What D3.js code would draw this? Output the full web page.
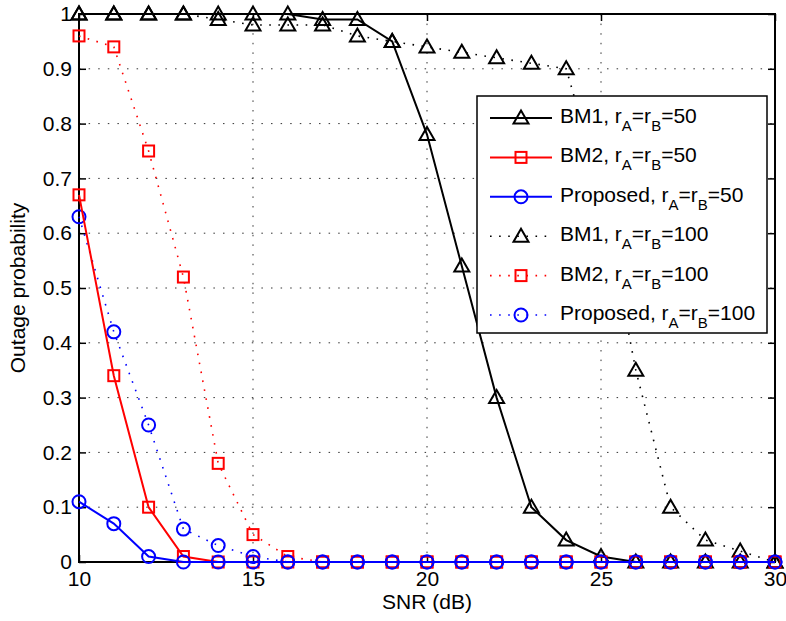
<!DOCTYPE html>
<html>
<head>
<meta charset="utf-8">
<script src="https://cdn.jsdelivr.net/npm/d3@7"></script>
<style>
  html, body { margin: 0; padding: 0; background: #fff; }
  text { font-family: "Liberation Sans", Arial, Helvetica, sans-serif; }
</style>
</head>
<body>
<svg id="chart" width="786" height="621"></svg>
<script>
// ---- data ----
const snr = [10,11,12,13,14,15,16,17,18,19,20,21,22,23,24,25,26,27,28,29,30];
const bm1_50  = [1,1,1,1,1,1,1,0.99,0.99,0.95,0.78,0.54,0.30,0.10,0.04,0.01,0,0,0,0,0];
const bm2_50  = [0.67,0.34,0.10,0.01,0,0,0,0,0,0,0,0,0,0,0,0,0,0,0,0,0];
const prop_50 = [0.11,0.07,0.01,0,0,0,0,0,0,0,0,0,0,0,0,0,0,0,0,0,0];
const bm1_100  = [1,1,1,1,0.99,0.98,0.98,0.98,0.96,0.95,0.94,0.93,0.92,0.91,0.90,0.68,0.35,0.10,0.04,0.02,0];
const bm2_100  = [0.96,0.94,0.75,0.52,0.18,0.05,0.01,0,0,0,0,0,0,0,0,0,0,0,0,0,0];
const prop_100 = [0.63,0.42,0.25,0.06,0.03,0.01,0,0,0,0,0,0,0,0,0,0,0,0,0,0,0];
const xTicks = [10,15,20,25,30];
const yTicks = [0,0.1,0.2,0.3,0.4,0.5,0.6,0.7,0.8,0.9,1];
const seriesNames = ["BM1", "BM2", "Proposed", "BM1", "BM2", "Proposed"];
const seriesR = ["50","50","50","100","100","100"];

const series = [
  {name: seriesNames[0], r: seriesR[0], values: bm1_50,  color: "#000", marker: "tri", dotted: false},
  {name: seriesNames[1], r: seriesR[1], values: bm2_50,  color: "#ff0000", marker: "sq", dotted: false},
  {name: seriesNames[2], r: seriesR[2], values: prop_50, color: "#0000ff", marker: "circ", dotted: false},
  {name: seriesNames[3], r: seriesR[3], values: bm1_100,  color: "#000", marker: "tri", dotted: true},
  {name: seriesNames[4], r: seriesR[4], values: bm2_100,  color: "#ff0000", marker: "sq", dotted: true},
  {name: seriesNames[5], r: seriesR[5], values: prop_100, color: "#0000ff", marker: "circ", dotted: true}
];

// ---- layout ----
const L = 79, R = 775, T = 14, B = 562;
const svg = d3.select("#chart");
const x = d3.scaleLinear().domain([10,30]).range([L,R]);
const y = d3.scaleLinear().domain([0,1]).range([B,T]);
const FS = 21;

// grid
const grid = svg.append("g");
grid.selectAll(".gx").data(xTicks.slice(1,-1)).enter().append("line")
  .attr("x1", d=>x(d)).attr("x2", d=>x(d)).attr("y1", T).attr("y2", B)
  .attr("stroke", "#333").attr("stroke-width", 1).attr("stroke-dasharray", "1.5,8.1");
grid.selectAll(".gy").data(yTicks.slice(1,-1)).enter().append("line")
  .attr("x1", L).attr("x2", R).attr("y1", d=>y(d)).attr("y2", d=>y(d))
  .attr("stroke", "#333").attr("stroke-width", 1).attr("stroke-dasharray", "1.5,8.1");

// axes with inner ticks
const xAxisB = d3.axisBottom(x).tickValues(xTicks).tickSize(-7).tickPadding(9).tickFormat(d3.format("d"));
const xAxisT = d3.axisTop(x).tickValues(xTicks).tickSize(-7).tickFormat("");
const yAxisL = d3.axisLeft(y).tickValues(yTicks).tickSize(-7).tickPadding(7).tickFormat(d => d === 0 || d === 1 ? String(d) : d3.format(".1f")(d));
const yAxisR = d3.axisRight(y).tickValues(yTicks).tickSize(-7).tickFormat("");

function styleAxis(g) {
  g.select(".domain").remove();
  g.selectAll(".tick line").attr("stroke", "#000").attr("stroke-width", 1.5);
  g.selectAll(".tick text").attr("fill", "#000").style("font-size", FS + "px")
    .style("font-family", '"Liberation Sans", Arial, sans-serif');
}
svg.append("g").attr("transform", `translate(0,${B})`).call(xAxisB).call(styleAxis);
svg.append("g").attr("transform", `translate(0,${T})`).call(xAxisT).call(styleAxis);
svg.append("g").attr("transform", `translate(${L},0)`).call(yAxisL).call(styleAxis);
svg.append("g").attr("transform", `translate(${R},0)`).call(yAxisR).call(styleAxis);

// box
svg.append("rect").attr("x", L).attr("y", T).attr("width", R-L).attr("height", B-T)
  .attr("fill", "none").attr("stroke", "#000").attr("stroke-width", 2);

// axis labels
svg.append("text").attr("x", (L+R)/2).attr("y", 609).attr("text-anchor", "middle")
  .style("font-size", FS + "px").text("SNR (dB)");
svg.append("text").attr("transform", `translate(25,${(T+B)/2}) rotate(-90)`).attr("text-anchor", "middle")
  .style("font-size", FS + "px").text("Outage probability");

// marker drawer
function drawMarker(g, type, cx, cy, color) {
  if (type === "tri") {
    g.append("path").attr("d", `M${cx},${cy-7.5} L${cx+7.5},${cy+5.5} L${cx-7.5},${cy+5.5} Z`)
      .attr("fill", "none").attr("stroke", color).attr("stroke-width", 2);
  } else if (type === "sq") {
    g.append("rect").attr("x", cx-5.5).attr("y", cy-5.5).attr("width", 11).attr("height", 11)
      .attr("fill", "none").attr("stroke", color).attr("stroke-width", 2);
  } else {
    g.append("circle").attr("cx", cx).attr("cy", cy).attr("r", 6.5)
      .attr("fill", "none").attr("stroke", color).attr("stroke-width", 2);
  }
}

// data lines (draw order: dotted first, then solid)
const plot = svg.append("g");
const line = d3.line().x((d,i)=>x(snr[i])).y(d=>y(d));
const order = [3,4,5,0,1,2];
order.forEach(k => {
  const s = series[k];
  plot.append("path").datum(s.values).attr("d", line)
    .attr("fill", "none").attr("stroke", s.color)
    .attr("stroke-width", s.dotted ? 1.6 : 2)
    .attr("stroke-dasharray", s.dotted ? "1.6,7.5" : null);
  const mg = plot.append("g");
  s.values.forEach((v,i) => drawMarker(mg, s.marker, x(snr[i]), y(v), s.color));
});

// legend
const LX = 477, LY = 96, LW = 290, LH = 237;
const lg = svg.append("g");
lg.append("rect").attr("x", LX).attr("y", LY).attr("width", LW).attr("height", LH)
  .attr("fill", "#fff").attr("stroke", "#000").attr("stroke-width", 1.5);
const rowY0 = 118, rowDY = 39.4;
series.forEach((s,i) => {
  const ry = rowY0 + i*rowDY;
  lg.append("line").attr("x1", 490).attr("x2", 552).attr("y1", ry).attr("y2", ry)
    .attr("stroke", s.color).attr("stroke-width", s.dotted ? 1.6 : 2)
    .attr("stroke-dasharray", s.dotted ? "1.6,7.5" : null);
  drawMarker(lg, s.marker, 521, ry, s.color);
  const t = lg.append("text").attr("x", 560).attr("y", ry + 5).style("font-size", FS + "px");
  t.append("tspan").text(s.name + ", r");
  t.append("tspan").attr("dy", 8).style("font-size", "15px").text("A");
  t.append("tspan").attr("dy", -8).text("=r");
  t.append("tspan").attr("dy", 8).style("font-size", "15px").text("B");
  t.append("tspan").attr("dy", -8).text("=" + s.r);
});
</script>
</body>
</html>
